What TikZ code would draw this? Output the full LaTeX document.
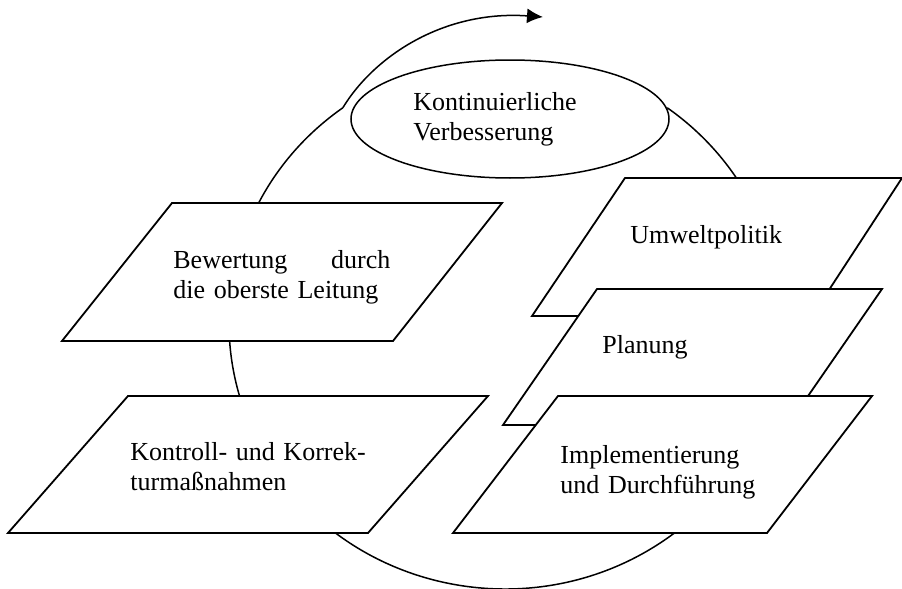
\documentclass[tikz,border=0pt]{standalone}
\usepackage{fontspec}
\setmainfont{Liberation Serif}
\usetikzlibrary{arrows.meta}

\begin{document}
\begin{tikzpicture}[x=0.5pt,y=-0.5pt,
  box/.style={draw,line width=0.9pt,fill=white},
  txt/.style={inner sep=0pt,anchor=base west,align=left,font=\fontsize{13pt}{15pt}\selectfont}]
\useasboundingbox (0,0) rectangle (902,589);
% Kreislauf
\coordinate (pfeilA) at (342.8,107.8);
\coordinate (pfeilB) at (543,17);
\draw[line width=0.75pt] (pfeilA) arc[start angle=126, end angle=414, x radius=138pt, y radius=133pt];
\filldraw[fill=white,line width=0.75pt] (510,119) ellipse [x radius=79.5pt, y radius=29.5pt];
\draw[line width=0.75pt,-{Latex[length=8pt,width=7.5pt]}] (pfeilA) .. controls (375,55) and (445,10) .. (pfeilB);
% linke Seite
\draw[box] (172,203) -- (502,203) -- (393,341) -- (62,341) -- cycle;
\draw[box] (128,396) -- (488,396) -- (368,533) -- (8,533) -- cycle;
% rechte Seite
\draw[box] (625,178) -- (902,178) -- (812,316) -- (532,316) -- cycle;
\draw[box] (597,289) -- (882,289) -- (788,425) -- (503,425) -- cycle;
\draw[box] (558,396) -- (872,396) -- (767,533) -- (453,533) -- cycle;
% Texte
\node[txt,text width=90pt] (kvp) at (413,111) {Kontinuierliche\\Verbesserung};
\node[txt,text width=108.5pt] (bew) at (173,268) {Bewertung\hfill durch\\die oberste Leitung};
\node[txt,text width=130pt] (kon) at (130,460) {Kontroll- und Korrek-\\turmaßnahmen};
\node[txt,text width=100pt] (umw) at (630,243) {Umweltpolitik};
\node[txt,text width=100pt] (pla) at (602,353) {Planung};
\node[txt,text width=120pt] (imp) at (560,463) {Implementierung\\und Durchführung};
\end{tikzpicture}
\end{document}
